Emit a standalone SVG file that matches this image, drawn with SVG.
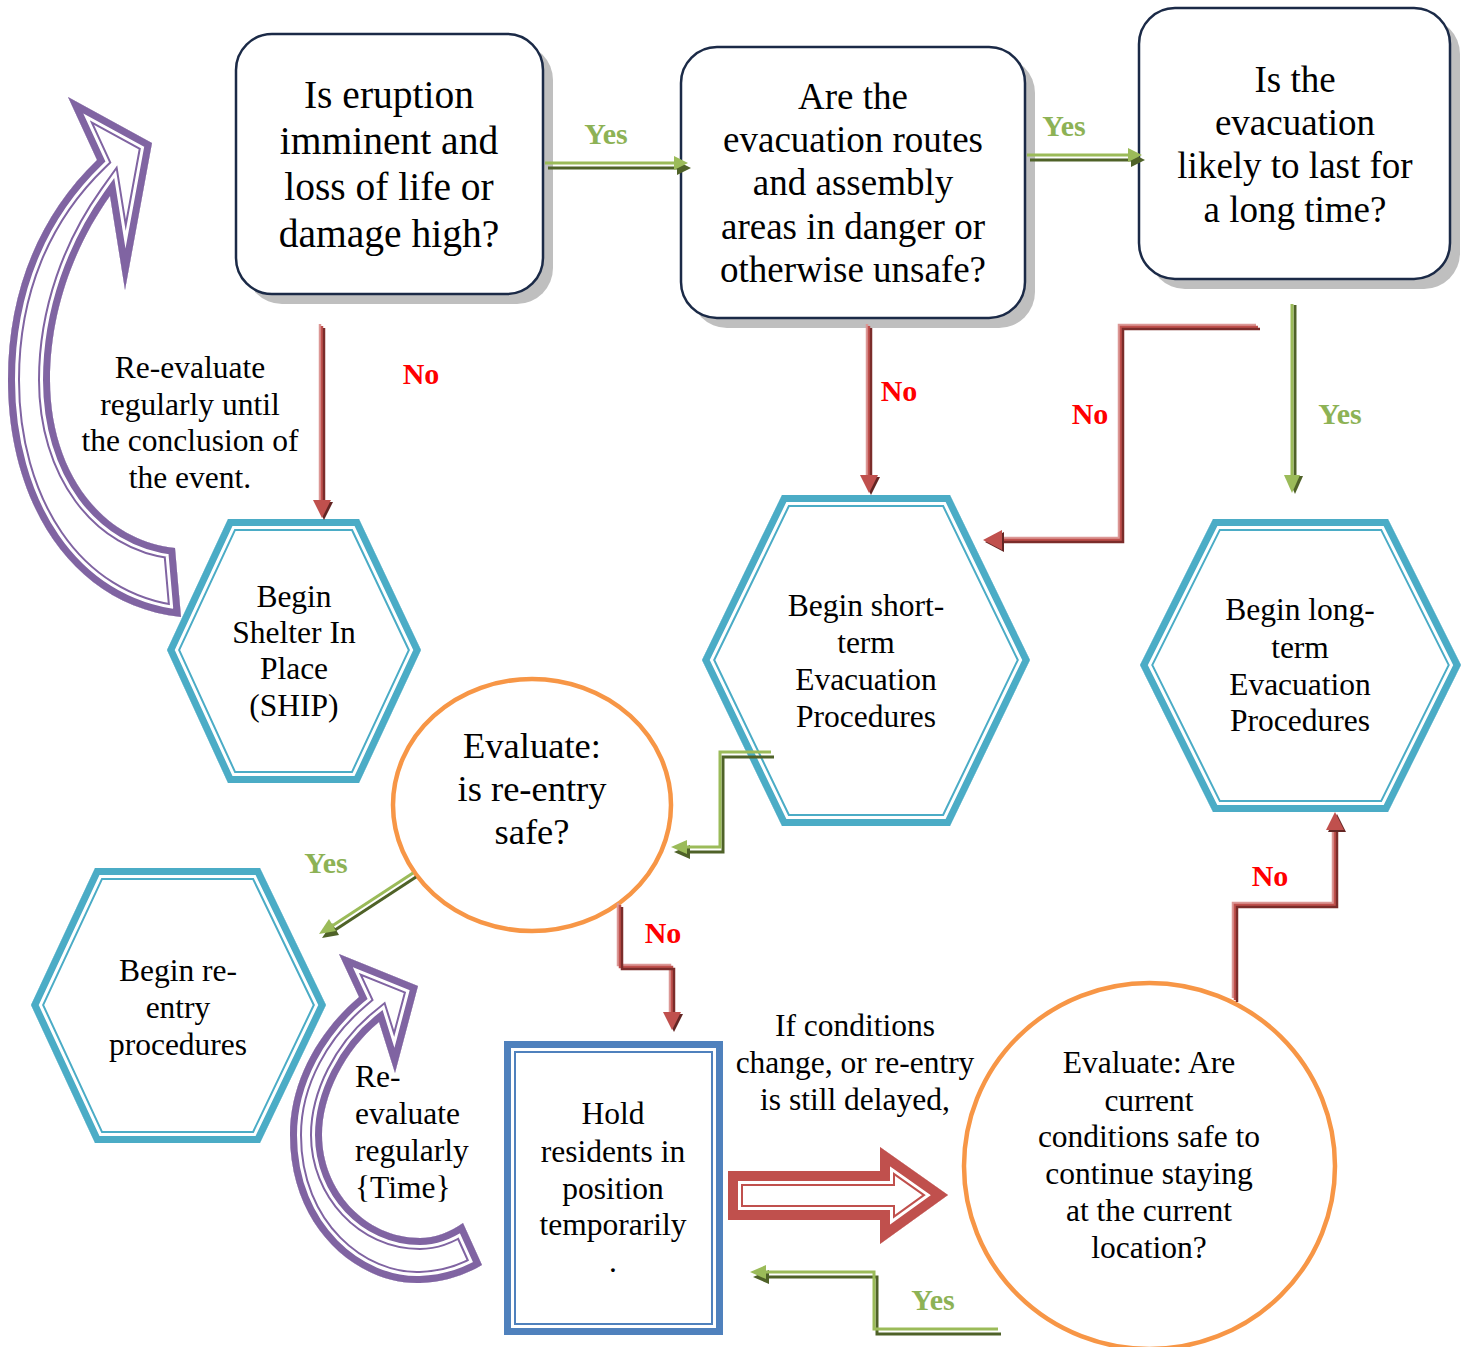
<svg xmlns="http://www.w3.org/2000/svg" xmlns:xlink="http://www.w3.org/1999/xlink" width="1464" height="1347" viewBox="0 0 1464 1347">
<style>
.t{font-family:"Liberation Serif","Times New Roman",serif;fill:#000;text-anchor:middle}
.f39{font-size:39.5px}.f37{font-size:37px}.f31{font-size:31.5px}.f36{font-size:36.5px}
.ly{font-family:"Liberation Serif","Times New Roman",serif;font-weight:bold;font-size:30px;fill:#8db255;text-anchor:middle}
.ln{font-family:"Liberation Serif","Times New Roman",serif;font-weight:bold;font-size:30px;fill:#ff0000;text-anchor:middle}
.sh{fill:#bfbfbf}
.bx{fill:#fff;stroke:#1b2a47;stroke-width:2.5}
.d1{fill:#fff;stroke:currentColor;stroke-width:24;stroke-linejoin:miter;stroke-miterlimit:20}
.d2{fill:none;stroke:#fff;stroke-width:20;stroke-linejoin:miter;stroke-miterlimit:20}
.d3{fill:none;stroke:currentColor;stroke-width:14;stroke-linejoin:miter;stroke-miterlimit:20}
.b1{fill:#fff;stroke:currentColor;stroke-width:30;stroke-linejoin:miter;stroke-miterlimit:20}
.b2{fill:none;stroke:#fff;stroke-width:26;stroke-linejoin:miter;stroke-miterlimit:20}
.b3{fill:none;stroke:currentColor;stroke-width:20;stroke-linejoin:miter;stroke-miterlimit:20}
.teal{color:#4bacc6}.blue{color:#4f81bd}.purple{color:#8064a2}.red{color:#c0504d}
.ell{fill:#fff;stroke:#f79646;stroke-width:4.5}
.rp{fill:none;stroke:#dc9896;stroke-width:2.5}
.rm{fill:none;stroke:#c0504d;stroke-width:2.5}
.rd{fill:none;stroke:#7b2c2a;stroke-width:2.5}
.gl{fill:none;stroke:#9bbb59;stroke-width:3}
.gd{fill:none;stroke:#4f6228;stroke-width:3}
.ahr{fill:#c0504d}.ahrd{fill:#632523}.ahg{fill:#9bbb59}.ahgd{fill:#4f6228}
</style>
<defs>
<path id="p-ship" d="M228,519 L359,519 L421,650 L359,783 L228,783 L167,650 Z"/>
<path id="p-short" d="M782,495 L950,495 L1030,660 L950,826 L782,826 L702,660 Z"/>
<path id="p-long" d="M1213,519 L1388,519 L1461,665 L1388,812 L1213,812 L1140,665 Z"/>
<path id="p-reentry" d="M95,868 L260,868 L326,1005 L260,1143 L95,1143 L31,1005 Z"/>
<path id="p-hold" d="M504,1041 L723,1041 L723,1335 L504,1335 Z"/>
<path id="p-bigarrow" d="M728,1171 L880,1171 L880,1147 L948,1195 L880,1244 L880,1220 L728,1220 Z"/>
<path id="p-purple1" d="M97,160 C40,215 8,290 8,380 C8,500 70,605 181,617 L175,548 C100,540 50,470 50,380 C50,310 75,245 110,196 L125,290 L152,143 L68,97 Z"/>
<path id="p-purple2" d="M359,997 C320,1030 290,1080 290,1135 C290,1230 360,1285 420,1283 C445,1282 465,1275 482,1265 L463,1223 C450,1232 435,1238 420,1238 C365,1238 322,1190 322,1135 C322,1095 345,1050 379,1022 L395,1073 L418,986 L339,954 Z"/>
<clipPath id="c-ship"><use xlink:href="#p-ship"/></clipPath>
<clipPath id="c-short"><use xlink:href="#p-short"/></clipPath>
<clipPath id="c-long"><use xlink:href="#p-long"/></clipPath>
<clipPath id="c-reentry"><use xlink:href="#p-reentry"/></clipPath>
<clipPath id="c-hold"><use xlink:href="#p-hold"/></clipPath>
<clipPath id="c-bigarrow"><use xlink:href="#p-bigarrow"/></clipPath>
<clipPath id="c-purple1"><use xlink:href="#p-purple1"/></clipPath>
<clipPath id="c-purple2"><use xlink:href="#p-purple2"/></clipPath>
<path id="k1" d="M545,163 H676"/>
<path id="k2" d="M1027,155 H1130"/>
<path id="k3" d="M322,326 V502"/>
<path id="k4" d="M869,326 V477"/>
<path id="k5" d="M1258,327 H1121 V540 H1001"/>
<path id="k6" d="M1292,304 V477"/>
<path id="k7" d="M771,752 H720 V847 H686"/>
<path id="k8" d="M413,873 L332,926"/>
<path id="k9" d="M620,905 V967 H672 V1014"/>
<path id="k10" d="M1235,1000 V905 H1335 V829"/>
<path id="k11" d="M998,1329 H874 V1272 H764"/>
</defs>
<rect width="1464" height="1347" fill="#fff"/>

<g id="loop-arrow-1" class="purple" clip-path="url(#c-purple1)">
<use xlink:href="#p-purple1" class="d1"/><use xlink:href="#p-purple1" class="d2"/><use xlink:href="#p-purple1" class="d3"/>
</g>
<g id="loop-arrow-2" class="purple" clip-path="url(#c-purple2)">
<use xlink:href="#p-purple2" class="d1"/><use xlink:href="#p-purple2" class="d2"/><use xlink:href="#p-purple2" class="d3"/>
</g>
<g id="transition-arrow" class="red" clip-path="url(#c-bigarrow)">
<use xlink:href="#p-bigarrow" class="b1"/><use xlink:href="#p-bigarrow" class="b2"/><use xlink:href="#p-bigarrow" class="b3"/>
</g>

<g id="q-eruption">
<rect class="sh" x="246" y="44" width="307" height="260" rx="36"/>
<rect class="bx" x="236" y="34" width="307" height="260" rx="36"/>
<text class="t f39"><tspan x="389" y="108">Is eruption</tspan><tspan x="389" y="154">imminent and</tspan><tspan x="389" y="200">loss of life or</tspan><tspan x="389" y="247">damage high?</tspan></text>
</g>
<g id="q-routes">
<rect class="sh" x="691" y="57" width="344" height="271" rx="36"/>
<rect class="bx" x="681" y="47" width="344" height="271" rx="36"/>
<text class="t f37"><tspan x="853" y="109">Are the</tspan><tspan x="853" y="152">evacuation routes</tspan><tspan x="853" y="195">and assembly</tspan><tspan x="853" y="239">areas in danger or</tspan><tspan x="853" y="282">otherwise unsafe?</tspan></text>
</g>
<g id="q-long">
<rect class="sh" x="1149" y="18" width="311" height="271" rx="36"/>
<rect class="bx" x="1139" y="8" width="311" height="271" rx="36"/>
<text class="t f37"><tspan x="1295" y="92">Is the</tspan><tspan x="1295" y="135">evacuation</tspan><tspan x="1295" y="178">likely to last for</tspan><tspan x="1295" y="222">a long time?</tspan></text>
</g>

<g id="ship" class="teal" clip-path="url(#c-ship)">
<use xlink:href="#p-ship" class="d1"/><use xlink:href="#p-ship" class="d2"/><use xlink:href="#p-ship" class="d3"/>
</g>
<text class="t f31"><tspan x="294" y="607">Begin</tspan><tspan x="294" y="643">Shelter In</tspan><tspan x="294" y="679">Place</tspan><tspan x="294" y="716">(SHIP)</tspan></text>

<g id="short-term" class="teal" clip-path="url(#c-short)">
<use xlink:href="#p-short" class="d1"/><use xlink:href="#p-short" class="d2"/><use xlink:href="#p-short" class="d3"/>
</g>
<text class="t f31"><tspan x="866" y="616">Begin short-</tspan><tspan x="866" y="653">term</tspan><tspan x="866" y="690">Evacuation</tspan><tspan x="866" y="727">Procedures</tspan></text>

<g id="long-term" class="teal" clip-path="url(#c-long)">
<use xlink:href="#p-long" class="d1"/><use xlink:href="#p-long" class="d2"/><use xlink:href="#p-long" class="d3"/>
</g>
<text class="t f31"><tspan x="1300" y="620">Begin long-</tspan><tspan x="1300" y="658">term</tspan><tspan x="1300" y="695">Evacuation</tspan><tspan x="1300" y="731">Procedures</tspan></text>

<g id="reentry" class="teal" clip-path="url(#c-reentry)">
<use xlink:href="#p-reentry" class="d1"/><use xlink:href="#p-reentry" class="d2"/><use xlink:href="#p-reentry" class="d3"/>
</g>
<text class="t f31"><tspan x="178" y="981">Begin re-</tspan><tspan x="178" y="1018">entry</tspan><tspan x="178" y="1055">procedures</tspan></text>

<g id="eval-reentry">
<ellipse class="ell" cx="532" cy="805" rx="139" ry="126"/>
<text class="t f36"><tspan x="532" y="758">Evaluate:</tspan><tspan x="532" y="801">is re-entry</tspan><tspan x="532" y="844">safe?</tspan></text>
</g>

<g id="eval-current">
<ellipse class="ell" cx="1149.5" cy="1166" rx="185.5" ry="183"/>
<text class="t f31"><tspan x="1149" y="1073">Evaluate: Are</tspan><tspan x="1149" y="1111">current</tspan><tspan x="1149" y="1147">conditions safe to</tspan><tspan x="1149" y="1184">continue staying</tspan><tspan x="1149" y="1221">at the current</tspan><tspan x="1149" y="1258">location?</tspan></text>
</g>

<g id="hold" class="blue" clip-path="url(#c-hold)">
<use xlink:href="#p-hold" class="d1"/><use xlink:href="#p-hold" class="d2"/><use xlink:href="#p-hold" class="d3"/>
</g>
<text class="t f31"><tspan x="613" y="1124">Hold</tspan><tspan x="613" y="1162">residents in</tspan><tspan x="613" y="1199">position</tspan><tspan x="613" y="1235">temporarily</tspan><tspan x="613" y="1272">.</tspan></text>

<text class="t f31"><tspan x="190" y="378">Re-evaluate</tspan><tspan x="190" y="415">regularly until</tspan><tspan x="190" y="451">the conclusion of</tspan><tspan x="190" y="488">the event.</tspan></text>
<text class="t f31" style="text-anchor:start"><tspan x="355" y="1087">Re-</tspan><tspan x="355" y="1124">evaluate</tspan><tspan x="355" y="1161">regularly</tspan><tspan x="355" y="1198">{Time}</tspan></text>
<text class="t f31"><tspan x="855" y="1036">If conditions</tspan><tspan x="855" y="1073">change, or re-entry</tspan><tspan x="855" y="1110">is still delayed,</tspan></text>

<g id="connectors">
<!-- green yes 1->2 -->
<use xlink:href="#k1" class="gd" transform="translate(3,5)"/>
<polygon class="ahgd" points="677,161 691,168 677,175"/>
<use xlink:href="#k1" class="gl"/>
<polygon class="ahg" points="674,156 688,163 674,170"/>
<!-- green yes 2->3 -->
<use xlink:href="#k2" class="gd" transform="translate(3,5)"/>
<polygon class="ahgd" points="1131,153 1145,160 1131,167"/>
<use xlink:href="#k2" class="gl"/>
<polygon class="ahg" points="1128,148 1142,155 1128,162"/>
<!-- red no 1 -> ship -->
<use xlink:href="#k3" class="rp" transform="translate(-2,-2)"/><use xlink:href="#k3" class="rm"/><use xlink:href="#k3" class="rd" transform="translate(2,2)"/>
<polygon class="ahrd" points="315,502 333,502 324,520"/>
<polygon class="ahr" points="313,500 331,500 322,518"/>
<!-- red no 2 -> short -->
<use xlink:href="#k4" class="rp" transform="translate(-2,-2)"/><use xlink:href="#k4" class="rm"/><use xlink:href="#k4" class="rd" transform="translate(2,2)"/>
<polygon class="ahrd" points="862,477 880,477 871,495"/>
<polygon class="ahr" points="860,475 878,475 869,493"/>
<!-- red no 3 -> short -->
<use xlink:href="#k5" class="rp" transform="translate(-2,-2)"/><use xlink:href="#k5" class="rm"/><use xlink:href="#k5" class="rd" transform="translate(2,2)"/>
<polygon class="ahrd" points="1004,532 985,542 1004,552"/>
<polygon class="ahr" points="1002,530 983,540 1002,550"/>
<!-- green yes 3 -> long -->
<use xlink:href="#k6" class="gd" transform="translate(3,1)"/>
<polygon class="ahgd" points="1287,476 1303,476 1295,494"/>
<use xlink:href="#k6" class="gl"/>
<polygon class="ahg" points="1284,475 1300,475 1292,493"/>
<!-- green short -> eval -->
<use xlink:href="#k7" class="gd" transform="translate(3,5)"/>
<polygon class="ahgd" points="690,845 674,852 690,859"/>
<use xlink:href="#k7" class="gl"/>
<polygon class="ahg" points="687,840 671,847 687,854"/>
<!-- green yes eval -> reentry -->
<use xlink:href="#k8" class="gd" transform="translate(3,4)"/>
<polygon class="ahgd" points="322,938 339,935 332,923"/>
<use xlink:href="#k8" class="gl"/>
<polygon class="ahg" points="319,934 336,931 329,919"/>
<!-- red no eval -> hold -->
<use xlink:href="#k9" class="rp" transform="translate(-2,-2)"/><use xlink:href="#k9" class="rm"/><use xlink:href="#k9" class="rd" transform="translate(2,2)"/>
<polygon class="ahrd" points="665,1014 683,1014 674,1032"/>
<polygon class="ahr" points="663,1012 681,1012 672,1030"/>
<!-- red no eval2 -> long -->
<use xlink:href="#k10" class="rp" transform="translate(-2,-2)"/><use xlink:href="#k10" class="rm"/><use xlink:href="#k10" class="rd" transform="translate(2,2)"/>
<polygon class="ahrd" points="1328,832 1346,832 1337,814"/>
<polygon class="ahr" points="1326,830 1344,830 1335,812"/>
<!-- green yes eval2 -> hold -->
<use xlink:href="#k11" class="gd" transform="translate(3,5)"/>
<polygon class="ahgd" points="769,1270 753,1277 769,1284"/>
<use xlink:href="#k11" class="gl"/>
<polygon class="ahg" points="766,1265 750,1272 766,1279"/>
</g>

<g id="labels">
<text class="ly" x="606" y="144">Yes</text>
<text class="ly" x="1064" y="136">Yes</text>
<text class="ln" x="421" y="384">No</text>
<text class="ln" x="899" y="401">No</text>
<text class="ln" x="1090" y="424">No</text>
<text class="ly" x="1340" y="424">Yes</text>
<text class="ly" x="326" y="873">Yes</text>
<text class="ln" x="663" y="943">No</text>
<text class="ln" x="1270" y="886">No</text>
<text class="ly" x="933" y="1310">Yes</text>
</g>
</svg>
